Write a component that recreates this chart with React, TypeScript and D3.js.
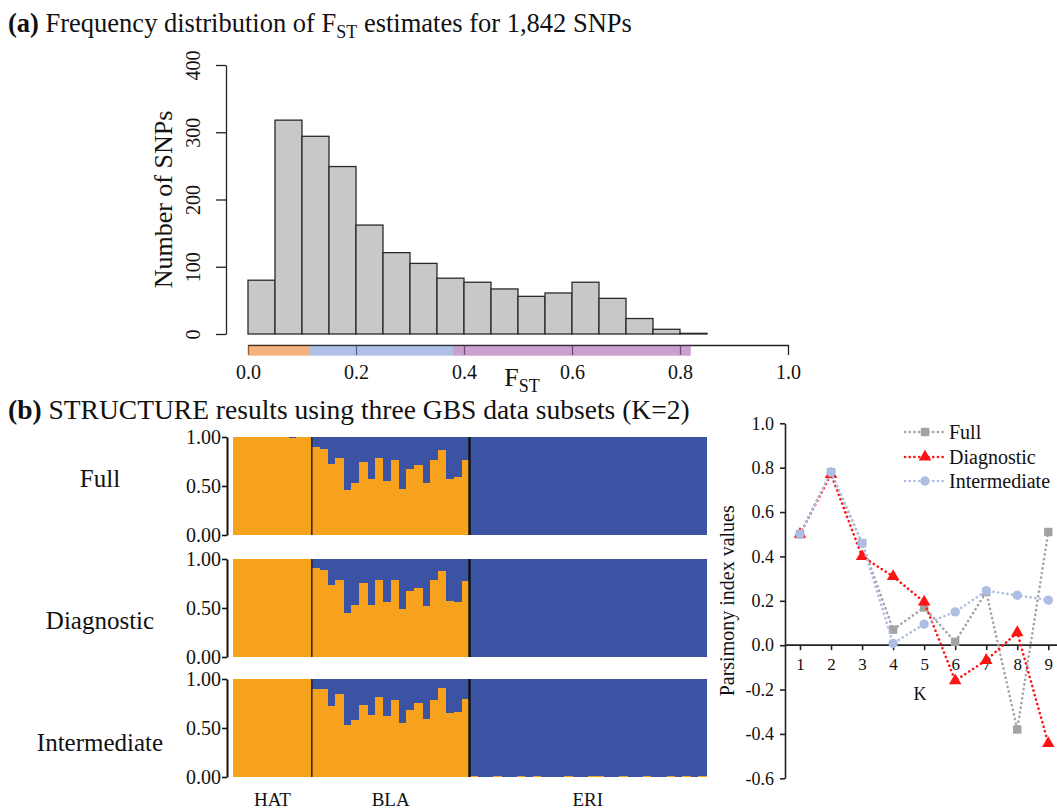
import { useEffect, useRef } from "react";
import * as d3 from "d3";

const W = 1057;
const H = 811;
const FONT = "'Liberation Serif', 'Times New Roman', Times, serif";

// (a) F_ST histogram (bin width 0.05)
const fstBinStarts = [0, 0.05, 0.1, 0.15, 0.2, 0.25, 0.3, 0.35, 0.4, 0.45, 0.5, 0.55, 0.6, 0.65, 0.7, 0.75, 0.8];
const fstCounts = [80, 318, 294, 249, 162, 121, 105, 83, 77, 67, 56, 61, 77, 53, 23, 7, 1];
const fstTicks = [0, 0.2, 0.4, 0.6, 0.8, 1.0];
const countTicks = [0, 100, 200, 300, 400];
// coloured F_ST classes under the axis
const classBreaks = [0, 0.113, 0.38, 0.82];
const classColors = ["#ED7F2A", "#7A96D5", "#A561AD"];

// (b) STRUCTURE q-values (proportion of the orange cluster)
const groups = ["HAT", "BLA", "ERI"];
const subsets = ["Full", "Diagnostic", "Intermediate"];
const hatFull = [1, 1, 1, 1, 1, 1, 1, 0.985, 1, 1];
const hatDiag = [1, 1, 1, 1, 1, 1, 1, 1, 1, 1];
const hatInter = [1, 1, 1, 1, 1, 1, 1, 1, 1, 1];
const blaFull = [0.898, 0.878, 0.721, 0.786, 0.459, 0.527, 0.745, 0.568, 0.786, 0.551, 0.769, 0.473, 0.67, 0.711, 0.534, 0.762, 0.867, 0.575, 0.588, 0.769];
const blaDiag = [0.905, 0.891, 0.735, 0.782, 0.446, 0.531, 0.759, 0.534, 0.786, 0.561, 0.786, 0.493, 0.673, 0.707, 0.524, 0.786, 0.874, 0.571, 0.565, 0.779];
const blaInter = [0.898, 0.898, 0.728, 0.847, 0.531, 0.578, 0.738, 0.636, 0.816, 0.626, 0.789, 0.554, 0.687, 0.759, 0.592, 0.782, 0.912, 0.656, 0.667, 0.799];
const eriFull = [0, 0, 0, 0, 0, 0, 0, 0, 0, 0, 0, 0, 0, 0, 0, 0, 0, 0, 0, 0, 0, 0, 0, 0, 0, 0, 0, 0, 0, 0];
const eriDiag = [0, 0, 0, 0, 0, 0, 0, 0, 0, 0, 0, 0, 0, 0, 0, 0, 0, 0, 0, 0, 0, 0, 0, 0, 0, 0, 0, 0, 0, 0];
const eriInter = [0.008, 0, 0, 0.008, 0, 0, 0.008, 0, 0.008, 0, 0, 0, 0.008, 0, 0, 0.008, 0.008, 0, 0, 0.008, 0, 0, 0.008, 0, 0, 0.008, 0, 0.008, 0, 0.008];
const qTicks = [0, 0.5, 1];

// (b, right) parsimony index by K
const kValues = [1, 2, 3, 4, 5, 6, 7, 8, 9];
const parsFull = [0.5, 0.78, 0.46, 0.07, 0.17, 0.015, 0.24, -0.38, 0.51];
const parsDiag = [0.5, 0.77, 0.4, 0.31, 0.195, -0.16, -0.068, 0.057, -0.443];
const parsInter = [0.5, 0.78, 0.46, 0.008, 0.095, 0.15, 0.245, 0.225, 0.203];
const parsTicks = [-0.6, -0.4, -0.2, 0, 0.2, 0.4, 0.6, 0.8, 1.0];

const ORANGE = "#F7A21C";
const BLUE = "#3A53A3";

export default function App() {
  const ref = useRef<SVGSVGElement>(null);

  useEffect(() => {
    const svg = d3.select(ref.current);
    svg.selectAll("*").remove();
    svg.attr("font-family", FONT).attr("fill", "#111");

    // ---------- titles ----------
    const titleA = svg.append("text").attr("x", 8).attr("y", 32).style("font-size", "26.5px");
    titleA.append("tspan").attr("font-weight", "bold").text("(a)");
    titleA.append("tspan").text(" Frequency distribution of F");
    titleA.append("tspan").attr("dy", 6).style("font-size", "18px").text("ST");
    titleA.append("tspan").attr("dy", -6).text(" estimates for 1,842 SNPs");

    const titleB = svg.append("text").attr("x", 8).attr("y", 419).style("font-size", "27.5px");
    titleB.append("tspan").attr("font-weight", "bold").text("(b)");
    titleB.append("tspan").text(" STRUCTURE results using three GBS data subsets (K=2)");

    // ---------- (a) histogram ----------
    const hx = d3.scaleLinear().domain([0, 1]).range([248, 788]);
    const hy = d3.scaleLinear().domain([0, 400]).range([334, 65]);
    const binW = 0.05;

    svg
      .append("g")
      .selectAll("rect")
      .data(fstCounts)
      .join("rect")
      .attr("x", (d, i) => hx(fstBinStarts[i]))
      .attr("y", (d) => hy(d))
      .attr("width", hx(binW) - hx(0))
      .attr("height", (d) => hy(0) - hy(d))
      .attr("fill", "#C8C8C8")
      .attr("stroke", "#2a2a2a")
      .attr("stroke-width", 1.3);

    const yAxisA = svg
      .append("g")
      .attr("transform", "translate(226,0)")
      .call(d3.axisLeft(hy).tickValues(countTicks).tickSize(10).tickSizeOuter(0).tickFormat(d3.format("d")));
    yAxisA.select(".domain").attr("stroke", "#222").attr("stroke-width", 1.3);
    yAxisA.selectAll(".tick line").attr("stroke", "#222").attr("stroke-width", 1.3);
    yAxisA
      .selectAll(".tick text")
      .attr("x", null)
      .attr("dy", null)
      .attr("text-anchor", "middle")
      .attr("transform", "translate(-26,0) rotate(-90)")
      .attr("fill", "#111")
      .style("font-size", "20px")
      .style("font-family", FONT);

    svg
      .append("text")
      .attr("transform", `translate(163,${(hy(0) + hy(400)) / 2}) rotate(-90)`)
      .attr("text-anchor", "middle")
      .attr("dy", "0.35em")
      .style("font-size", "26px")
      .text("Number of SNPs");

    // x axis sits a bit below the bars
    const axisY = 345;
    const xAxisA = svg
      .append("g")
      .attr("transform", `translate(0,${axisY})`)
      .call(d3.axisBottom(hx).tickValues(fstTicks).tickSize(10).tickSizeOuter(0).tickFormat(d3.format(".1f")));
    xAxisA.select(".domain").attr("stroke", "#222").attr("stroke-width", 1.3);
    xAxisA.selectAll(".tick line").attr("stroke", "#222").attr("stroke-width", 1.3);
    xAxisA
      .selectAll(".tick text")
      .attr("y", 27)
      .attr("dy", "0.35em")
      .attr("fill", "#111")
      .style("font-size", "20px")
      .style("font-family", FONT);

    svg
      .append("g")
      .selectAll("rect")
      .data(classColors)
      .join("rect")
      .attr("x", (d, i) => hx(classBreaks[i]))
      .attr("y", axisY + 0.7)
      .attr("width", (d, i) => hx(classBreaks[i + 1]) - hx(classBreaks[i]))
      .attr("height", 10)
      .attr("fill", (d) => d)
      .attr("fill-opacity", 0.6);

    const fLabel = svg.append("text").attr("x", hx(0.5) + 4).attr("y", 386).attr("text-anchor", "middle").style("font-size", "26px");
    fLabel.append("tspan").text("F");
    fLabel.append("tspan").attr("dy", 6).style("font-size", "18px").text("ST");

    // ---------- (b) STRUCTURE bar plots ----------
    const qData = [
      [...hatFull, ...blaFull, ...eriFull],
      [...hatDiag, ...blaDiag, ...eriDiag],
      [...hatInter, ...blaInter, ...eriInter],
    ];
    const groupSizes = [hatFull.length, blaFull.length, eriFull.length];
    const nInd = d3.sum(groupSizes);
    const sx = d3.scaleBand<number>().domain(d3.range(nInd)).range([233, 706]).padding(0);
    const panelTops = [437, 559, 679];
    const panelH = 98;
    const subsetLabelY = [478, 620, 742];

    qData.forEach((q, p) => {
      const sy = d3.scaleLinear().domain([0, 1]).range([panelTops[p] + panelH, panelTops[p]]);
      const g = svg.append("g");
      g.selectAll("rect.blue")
        .data(q)
        .join("rect")
        .attr("class", "blue")
        .attr("x", (d, i) => sx(i) as number)
        .attr("y", sy(1))
        .attr("width", sx.bandwidth() + 0.6)
        .attr("height", (d) => sy(d) - sy(1))
        .attr("fill", BLUE)
        .attr("shape-rendering", "crispEdges");
      g.selectAll("rect.orange")
        .data(q)
        .join("rect")
        .attr("class", "orange")
        .attr("x", (d, i) => sx(i) as number)
        .attr("y", (d) => sy(d))
        .attr("width", sx.bandwidth() + 0.6)
        .attr("height", (d) => sy(0) - sy(d))
        .attr("fill", ORANGE)
        .attr("shape-rendering", "crispEdges");

      // group separators
      const b1 = sx(groupSizes[0]) as number;
      const b2 = sx(groupSizes[0] + groupSizes[1]) as number;
      g.append("line").attr("x1", b1).attr("x2", b1).attr("y1", sy(1)).attr("y2", sy(0)).attr("stroke", "#1a1a1a").attr("stroke-width", 1.4);
      g.append("line").attr("x1", b2).attr("x2", b2).attr("y1", sy(1)).attr("y2", sy(0)).attr("stroke", "#111").attr("stroke-width", 2.4);

      const ax = g
        .append("g")
        .attr("transform", "translate(227,0)")
        .call(d3.axisLeft(sy).tickValues(qTicks).tickSize(5).tickSizeOuter(0).tickPadding(1).tickFormat(d3.format(".2f")));
      ax.select(".domain").attr("stroke", "#111").attr("stroke-width", 2);
      ax.selectAll(".tick line").attr("stroke", "#111").attr("stroke-width", 1.6);
      ax.selectAll(".tick text").attr("fill", "#111").style("font-size", "20px").style("font-family", FONT);

      svg
        .append("text")
        .attr("x", 100)
        .attr("y", subsetLabelY[p])
        .attr("dy", "0.35em")
        .attr("text-anchor", "middle")
        .style("font-size", "25px")
        .text(subsets[p]);
    });

    let start = 0;
    groups.forEach((name, i) => {
      const x0 = sx(start) as number;
      const x1 = start + groupSizes[i] < nInd ? (sx(start + groupSizes[i]) as number) : sx.range()[1];
      svg
        .append("text")
        .attr("x", (x0 + x1) / 2)
        .attr("y", 799)
        .attr("dy", "0.35em")
        .attr("text-anchor", "middle")
        .style("font-size", "19px")
        .text(name);
      start += groupSizes[i];
    });

    // ---------- (b, right) parsimony index ----------
    const px = d3.scalePoint<number>().domain(kValues).range([800, 1048.3]);
    const py = d3.scaleLinear().domain([-0.6, 1.0]).range([778.3, 423.3]);

    const yAxisP = svg
      .append("g")
      .attr("transform", "translate(785,0)")
      .call(d3.axisLeft(py).tickValues(parsTicks).tickSize(5).tickSizeOuter(0).tickPadding(6).tickFormat((d) => (+d).toFixed(1)));
    yAxisP.select(".domain").attr("stroke", "#222").attr("stroke-width", 1.6);
    yAxisP.selectAll(".tick line").attr("stroke", "#222").attr("stroke-width", 1.6);
    yAxisP.selectAll(".tick text").attr("fill", "#111").style("font-size", "18px").style("font-family", FONT);

    const xAxisP = svg
      .append("g")
      .attr("transform", `translate(0,${py(0)})`)
      .call(d3.axisBottom(px).tickSize(5).tickSizeOuter(0).tickPadding(8));
    xAxisP.select(".domain").attr("d", `M785,0H${W}`).attr("stroke", "#222").attr("stroke-width", 1.6);
    xAxisP.selectAll(".tick line").attr("stroke", "#222").attr("stroke-width", 1.6);
    xAxisP.selectAll(".tick text").attr("fill", "#111").style("font-size", "17px").style("font-family", FONT);

    svg
      .append("text")
      .attr("x", 920)
      .attr("y", 694)
      .attr("dy", "0.35em")
      .attr("text-anchor", "middle")
      .style("font-size", "18px")
      .text("K");

    svg
      .append("text")
      .attr("transform", `translate(727,${(py(-0.6) + py(1)) / 2}) rotate(-90)`)
      .attr("text-anchor", "middle")
      .attr("dy", "0.35em")
      .style("font-size", "20px")
      .text("Parsimony index values");

    const series = [
      { name: "Full", values: parsFull, color: "#A3A3A3", shape: "square" },
      { name: "Diagnostic", values: parsDiag, color: "#FF1414", shape: "triangle" },
      { name: "Intermediate", values: parsInter, color: "#AEBDE4", shape: "circle" },
    ];

    const line = d3
      .line<number>()
      .x((d, i) => px(kValues[i]) as number)
      .y((d) => py(d));

    const drawMarker = (g: any, shape: string, color: string, cx: number, cy: number) => {
      if (shape === "square") {
        g.append("rect").attr("x", cx - 4.2).attr("y", cy - 4.2).attr("width", 8.4).attr("height", 8.4).attr("fill", color);
      } else if (shape === "triangle") {
        g.append("path")
          .attr("d", d3.symbol().type(d3.symbolTriangle).size(68)())
          .attr("transform", `translate(${cx},${cy})`)
          .attr("fill", color);
      } else {
        g.append("circle").attr("cx", cx).attr("cy", cy).attr("r", 4.7).attr("fill", color);
      }
    };

    const plot = svg.append("g");
    series.forEach((s) => {
      plot
        .append("path")
        .attr("d", line(s.values))
        .attr("fill", "none")
        .attr("stroke", s.color)
        .attr("stroke-width", 2.6)
        .attr("stroke-linecap", "round")
        .attr("stroke-dasharray", "0.1 4.6");
      s.values.forEach((v, i) => drawMarker(plot, s.shape, s.color, px(kValues[i]) as number, py(v)));
    });

    // legend
    const legendY = [432, 457, 481];
    series.forEach((s, i) => {
      const lg = svg.append("g");
      lg.append("line")
        .attr("x1", 905)
        .attr("x2", 945)
        .attr("y1", legendY[i])
        .attr("y2", legendY[i])
        .attr("stroke", s.color)
        .attr("stroke-width", 2.6)
        .attr("stroke-linecap", "round")
        .attr("stroke-dasharray", "0.1 4.6");
      drawMarker(lg, s.shape, s.color, 925, legendY[i]);
      lg.append("text")
        .attr("x", 949)
        .attr("y", legendY[i])
        .attr("dy", "0.35em")
        .style("font-size", "20px")
        .text(s.name);
    });
  }, []);

  return (
    <div style={{ position: "absolute", left: 0, top: 0, background: "#fff" }}>
      <svg ref={ref} width={W} height={H} style={{ display: "block" }}></svg>
    </div>
  );
}
